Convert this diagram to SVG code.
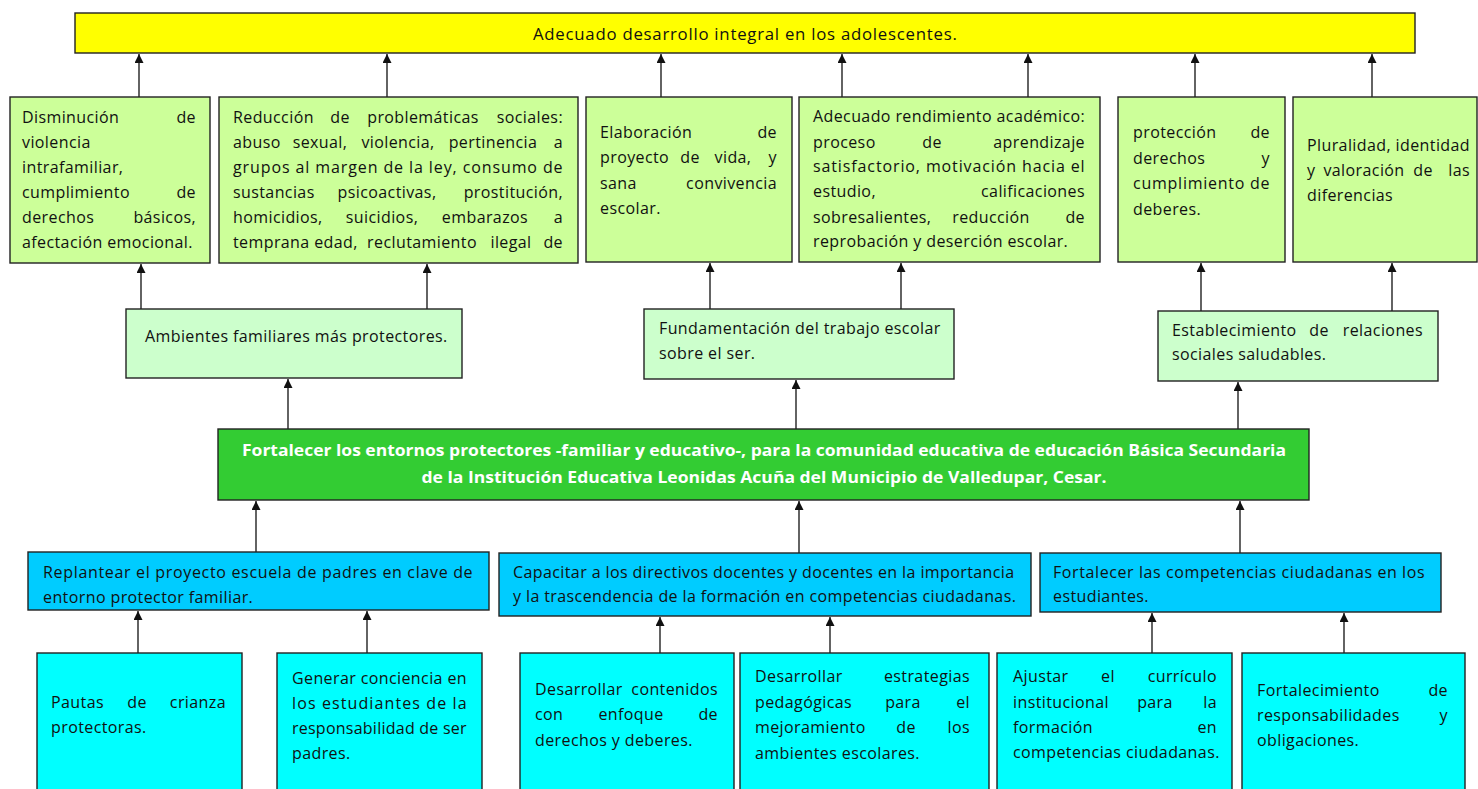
<svg xmlns="http://www.w3.org/2000/svg" width="1478" height="789" viewBox="0 0 1478 789">
<style>
.box{stroke:#222;stroke-width:1.4}
.y{fill:#ffff00}.g1{fill:#ccff99}.g2{fill:#ccffcc}.gm{fill:#33cc33}.b{fill:#00ccff}.c{fill:#00ffff}
.t{font-family:"Open Sans","Noto Sans",sans-serif;font-size:16px;letter-spacing:0.4px;fill:#111}
.w{font-family:"Open Sans","Noto Sans",sans-serif;font-size:16.5px;font-weight:bold;fill:#fff;text-anchor:middle}
.e{text-anchor:end}.m{text-anchor:middle}
.con line{stroke:#222;stroke-width:1.4;marker-end:url(#ah)}
</style>
<defs>
<marker id="ah" markerUnits="userSpaceOnUse" markerWidth="10" markerHeight="9" refX="9" refY="4.5" orient="auto">
<path d="M0,0 L9,4.5 L0,9 z" fill="#111"/>
</marker>
</defs>
<rect width="1478" height="789" fill="#fff"/>

<g id="top">
<rect class="box y" x="75" y="13" width="1340" height="40"/>
<text class="t" x="533" y="40" style="font-size:16.8px;letter-spacing:0.2px" textLength="424" lengthAdjust="spacing">Adecuado desarrollo integral en los adolescentes.</text>
</g>

<g id="r1a">
<rect class="box g1" x="10" y="97" width="200" height="166"/>
<text class="t" y="123"><tspan x="22">Disminución</tspan><tspan class="e" x="196">de</tspan></text>
<text class="t" x="22" y="148">violencia</text>
<text class="t" x="22" y="173">intrafamiliar,</text>
<text class="t" y="198"><tspan x="22">cumplimiento</tspan><tspan class="e" x="196">de</tspan></text>
<text class="t" y="223"><tspan x="22">derechos</tspan><tspan class="e" x="196">básicos,</tspan></text>
<text class="t" x="22" y="248">afectación emocional.</text>
</g>

<g id="r1b">
<rect class="box g1" x="219" y="97" width="359" height="166"/>
<text class="t" y="123"><tspan x="233">Reducción</tspan><tspan class="m" x="340">de</tspan><tspan class="m" x="423">problemáticas</tspan><tspan class="e" x="563">sociales:</tspan></text>
<text class="t" y="148"><tspan x="233">abuso</tspan><tspan class="m" x="320">sexual,</tspan><tspan class="m" x="398">violencia,</tspan><tspan class="m" x="493">pertinencia</tspan><tspan class="e" x="563">a</tspan></text>
<text class="t" x="233" y="173" textLength="330" lengthAdjust="spacing">grupos al margen de la ley, consumo de</text>
<text class="t" y="198"><tspan x="233">sustancias</tspan><tspan class="m" x="387">psicoactivas,</tspan><tspan class="e" x="563">prostitución,</tspan></text>
<text class="t" y="223"><tspan x="233">homicidios,</tspan><tspan class="m" x="382">suicidios,</tspan><tspan class="m" x="485">embarazos</tspan><tspan class="e" x="563">a</tspan></text>
<text class="t" y="248"><tspan x="233">temprana</tspan><tspan class="m" x="336">edad,</tspan><tspan class="m" x="422">reclutamiento</tspan><tspan class="m" x="511">ilegal</tspan><tspan class="e" x="563">de</tspan></text>
</g>

<g id="r1c">
<rect class="box g1" x="586" y="97" width="206" height="165"/>
<text class="t" y="138"><tspan x="600">Elaboración</tspan><tspan class="e" x="777">de</tspan></text>
<text class="t" y="163"><tspan x="600">proyecto</tspan><tspan class="m" x="690">de</tspan><tspan class="m" x="733">vida,</tspan><tspan class="e" x="777">y</tspan></text>
<text class="t" y="189"><tspan x="600">sana</tspan><tspan class="e" x="777">convivencia</tspan></text>
<text class="t" x="600" y="214">escolar.</text>
</g>

<g id="r1d">
<rect class="box g1" x="799" y="97" width="301" height="165"/>
<text class="t" x="813" y="122">Adecuado rendimiento académico:</text>
<text class="t" y="148"><tspan x="813">proceso</tspan><tspan class="m" x="932">de</tspan><tspan class="e" x="1085">aprendizaje</tspan></text>
<text class="t" x="813" y="172" textLength="272" lengthAdjust="spacing">satisfactorio, motivación hacia el</text>
<text class="t" y="197"><tspan x="813">estudio,</tspan><tspan class="e" x="1085">calificaciones</tspan></text>
<text class="t" y="223"><tspan x="813">sobresalientes,</tspan><tspan class="m" x="991">reducción</tspan><tspan class="e" x="1085">de</tspan></text>
<text class="t" x="813" y="247">reprobación y deserción escolar.</text>
</g>

<g id="r1e">
<rect class="box g1" x="1118" y="97" width="167" height="165"/>
<text class="t" y="138"><tspan x="1133">protección</tspan><tspan class="e" x="1270">de</tspan></text>
<text class="t" y="164"><tspan x="1133">derechos</tspan><tspan class="e" x="1270">y</tspan></text>
<text class="t" x="1133" y="189" textLength="137" lengthAdjust="spacing">cumplimiento de</text>
<text class="t" x="1133" y="215">deberes.</text>
</g>

<g id="r1f">
<rect class="box g1" x="1293" y="97" width="184" height="165"/>
<text class="t" y="151"><tspan x="1307">Pluralidad,</tspan><tspan class="e" x="1470">identidad</tspan></text>
<text class="t" y="176"><tspan x="1307">y</tspan><tspan class="m" x="1364">valoración</tspan><tspan class="m" x="1423">de</tspan><tspan class="e" x="1470">las</tspan></text>
<text class="t" x="1307" y="201">diferencias</text>
</g>

<g id="m1">
<rect class="box g2" x="126" y="309" width="336" height="69"/>
<text class="t" x="145" y="342">Ambientes familiares más protectores.</text>
</g>
<g id="m2">
<rect class="box g2" x="644" y="309" width="310" height="70"/>
<text class="t" x="659" y="334">Fundamentación del trabajo escolar</text>
<text class="t" x="659" y="359">sobre el ser.</text>
</g>
<g id="m3">
<rect class="box g2" x="1158" y="311" width="280" height="70"/>
<text class="t" y="336"><tspan x="1172">Establecimiento</tspan><tspan class="m" x="1319">de</tspan><tspan class="e" x="1423">relaciones</tspan></text>
<text class="t" x="1172" y="360">sociales saludables.</text>
</g>

<g id="main">
<rect class="box gm" x="218" y="429" width="1091" height="71"/>
<text class="w" x="764" y="456" textLength="1044" lengthAdjust="spacingAndGlyphs">Fortalecer los entornos protectores -familiar y educativo-, para la comunidad educativa de educación Básica Secundaria</text>
<text class="w" x="764" y="483" textLength="685" lengthAdjust="spacingAndGlyphs">de la Institución Educativa Leonidas Acuña del Municipio de Valledupar, Cesar.</text>
</g>

<g id="b1">
<rect class="box b" x="28" y="552" width="461" height="58"/>
<text class="t" x="43" y="578" textLength="430" lengthAdjust="spacing">Replantear el proyecto escuela de padres en clave de</text>
<text class="t" x="43" y="603">entorno protector familiar.</text>
</g>
<g id="b2">
<rect class="box b" x="499" y="553" width="532" height="63"/>
<text class="t" x="513" y="578">Capacitar a los directivos docentes y docentes en la importancia</text>
<text class="t" x="513" y="602">y la trascendencia de la formación en competencias ciudadanas.</text>
</g>
<g id="b3">
<rect class="box b" x="1040" y="553" width="401" height="59"/>
<text class="t" x="1053" y="578" textLength="372" lengthAdjust="spacing">Fortalecer las competencias ciudadanas en los</text>
<text class="t" x="1053" y="602">estudiantes.</text>
</g>

<g id="c1">
<rect class="box c" x="37" y="653" width="205" height="140"/>
<text class="t" y="708"><tspan x="51">Pautas</tspan><tspan class="m" x="137">de</tspan><tspan class="e" x="226">crianza</tspan></text>
<text class="t" x="51" y="733">protectoras.</text>
</g>
<g id="c2">
<rect class="box c" x="277" y="653" width="205" height="140"/>
<text class="t" x="292" y="684" textLength="175" lengthAdjust="spacing">Generar conciencia en</text>
<text class="t" x="292" y="709" textLength="175" lengthAdjust="spacing">los estudiantes de la</text>
<text class="t" x="292" y="734" textLength="175" lengthAdjust="spacing">responsabilidad de ser</text>
<text class="t" x="292" y="759">padres.</text>
</g>
<g id="c3">
<rect class="box c" x="520" y="653" width="214" height="140"/>
<text class="t" y="695"><tspan x="535">Desarrollar</tspan><tspan class="e" x="718">contenidos</tspan></text>
<text class="t" y="720"><tspan x="535">con</tspan><tspan class="m" x="631">enfoque</tspan><tspan class="e" x="718">de</tspan></text>
<text class="t" x="535" y="746">derechos y deberes.</text>
</g>
<g id="c4">
<rect class="box c" x="740" y="653" width="249" height="140"/>
<text class="t" y="682"><tspan x="755">Desarrollar</tspan><tspan class="e" x="970">estrategias</tspan></text>
<text class="t" y="708"><tspan x="755">pedagógicas</tspan><tspan class="m" x="903">para</tspan><tspan class="e" x="970">el</tspan></text>
<text class="t" y="733"><tspan x="755">mejoramiento</tspan><tspan class="m" x="906">de</tspan><tspan class="e" x="970">los</tspan></text>
<text class="t" x="755" y="759">ambientes escolares.</text>
</g>
<g id="c5">
<rect class="box c" x="997" y="653" width="235" height="140"/>
<text class="t" y="682"><tspan x="1013">Ajustar</tspan><tspan class="m" x="1108">el</tspan><tspan class="e" x="1217">currículo</tspan></text>
<text class="t" y="708"><tspan x="1013">institucional</tspan><tspan class="m" x="1155">para</tspan><tspan class="e" x="1217">la</tspan></text>
<text class="t" y="733"><tspan x="1013">formación</tspan><tspan class="e" x="1217">en</tspan></text>
<text class="t" x="1013" y="758">competencias ciudadanas.</text>
</g>
<g id="c6">
<rect class="box c" x="1242" y="653" width="223" height="140"/>
<text class="t" y="696"><tspan x="1257">Fortalecimiento</tspan><tspan class="e" x="1448">de</tspan></text>
<text class="t" y="721"><tspan x="1257">responsabilidades</tspan><tspan class="e" x="1448">y</tspan></text>
<text class="t" x="1257" y="746">obligaciones.</text>
</g>

<g id="connectors" class="con">
<line x1="139" y1="97" x2="139" y2="54"/>
<line x1="387" y1="97" x2="387" y2="54"/>
<line x1="661" y1="97" x2="661" y2="54"/>
<line x1="842" y1="97" x2="842" y2="54"/>
<line x1="1028" y1="97" x2="1028" y2="54"/>
<line x1="1195" y1="97" x2="1195" y2="54"/>
<line x1="1372" y1="97" x2="1372" y2="54"/>
<line x1="141" y1="309" x2="141" y2="264"/>
<line x1="427" y1="309" x2="427" y2="264"/>
<line x1="710" y1="309" x2="710" y2="263"/>
<line x1="901" y1="309" x2="901" y2="263"/>
<line x1="1201" y1="311" x2="1201" y2="263"/>
<line x1="1392" y1="311" x2="1392" y2="263"/>
<line x1="288" y1="429" x2="288" y2="379"/>
<line x1="796" y1="429" x2="796" y2="380"/>
<line x1="1238" y1="429" x2="1238" y2="382"/>
<line x1="256" y1="552" x2="256" y2="501"/>
<line x1="799" y1="553" x2="799" y2="501"/>
<line x1="1240" y1="553" x2="1240" y2="501"/>
<line x1="138" y1="653" x2="138" y2="611"/>
<line x1="367" y1="653" x2="367" y2="611"/>
<line x1="660" y1="653" x2="660" y2="617"/>
<line x1="830" y1="653" x2="830" y2="617"/>
<line x1="1152" y1="653" x2="1152" y2="613"/>
<line x1="1344" y1="653" x2="1344" y2="613"/>
</g>
</svg>
